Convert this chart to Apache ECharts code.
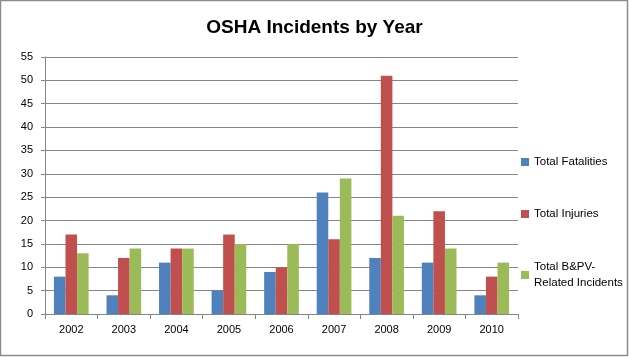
<!DOCTYPE html>
<html>
<head>
<meta charset="utf-8">
<script src="https://cdn.jsdelivr.net/npm/echarts@6/dist/echarts.min.js"></script>
<style>
html,body{margin:0;padding:0;background:#fff;}
#c{width:629px;height:357px;}
</style>
</head>
<body>
<div id="c"></div>
<script>
const categories = ['2002','2003','2004','2005','2006','2007','2008','2009','2010'];
const fatalities = [8,4,11,5,9,26,12,11,4];
const injuries = [17,12,14,17,10,16,51,22,8];
const bpv = [13,14,14,15,15,29,21,14,11];
const seriesNames = ['Total Fatalities','Total Injuries','Total B&PV-Related Incidents'];
const colors = ['#4F81BD','#C0504D','#9BBB59'];

const font = 'Liberation Sans, Arial, sans-serif';
const chart = echarts.init(document.getElementById('c'));
const legendBase = {
  orient: 'vertical', left: 521, padding: 0, itemWidth: 8, itemHeight: 8, itemGap: 0,
  icon: 'rect',
  textStyle: {fontFamily: font, fontSize: 11.5, color: '#000', lineHeight: 16},
  selectedMode: false
};
chart.setOption({
  animation: false,
  color: colors,
  title: {
    text: 'OSHA Incidents by Year', left: 'center', top: 13,
    textStyle: {fontFamily: font, fontSize: 19, fontWeight: 'bold', color: '#000'}
  },
  graphic: [{type:'rect', shape:{x:0.5,y:0.5,width:627,height:355}, style:{fill:null, stroke:'#8c8c8c', lineWidth:1.5}, silent:true}],
  legend: [
    Object.assign({}, legendBase, {top: 154, data: [seriesNames[0]]}),
    Object.assign({}, legendBase, {top: 206, data: [seriesNames[1]]}),
    Object.assign({}, legendBase, {top: 251, data: [{name: seriesNames[2], textStyle: {padding: [16,0,0,0]}}],
      formatter: function(n){ return 'Total B&PV-\nRelated Incidents'; }})
  ],
  grid: {left: 45, right: 111, top: 57, bottom: 43, containLabel: false},
  xAxis: {
    type: 'category', data: categories,
    axisLine: {lineStyle: {color: '#868686', width: 1}},
    axisTick: {show: true, length: 5, lineStyle: {color: '#868686'}},
    axisLabel: {fontFamily: font, fontSize: 11, color: '#000', margin: 10}
  },
  yAxis: {
    type: 'value', min: 0, max: 55, interval: 5,
    axisLine: {show: true, lineStyle: {color: '#868686', width: 1}},
    axisTick: {show: true, length: 4, lineStyle: {color: '#868686'}},
    axisLabel: {fontFamily: font, fontSize: 11, color: '#000', margin: 12},
    splitLine: {lineStyle: {color: '#868686', width: 1}}
  },
  series: [
    {name: seriesNames[0], type: 'bar', data: fatalities, barGap: '0%', barCategoryGap: '34%'},
    {name: seriesNames[1], type: 'bar', data: injuries, barGap: '0%', barCategoryGap: '34%'},
    {name: seriesNames[2], type: 'bar', data: bpv, barGap: '0%', barCategoryGap: '34%'}
  ]
});
</script>
</body>
</html>
